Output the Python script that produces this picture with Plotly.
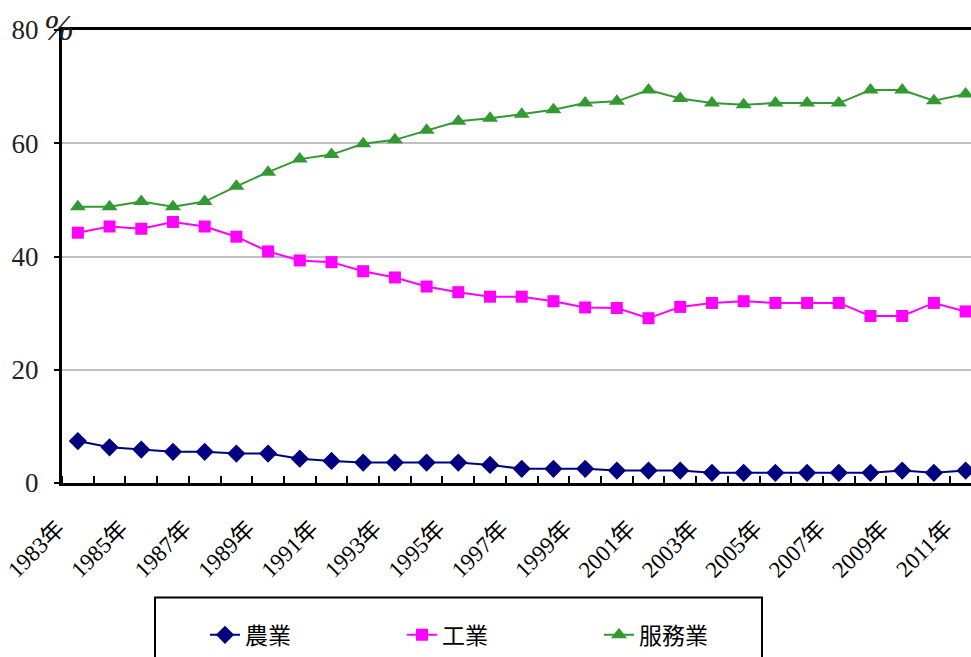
import plotly.graph_objects as go

years = list(range(1983, 2012))
agriculture = [7.4, 6.3, 5.9, 5.5, 5.5, 5.2, 5.2, 4.3, 3.9, 3.6, 3.6, 3.6, 3.6, 3.2,
               2.5, 2.5, 2.5, 2.2, 2.2, 2.2, 1.8, 1.8, 1.8, 1.8, 1.8, 1.8, 2.2, 1.8, 2.2]
industry = [44.2, 45.3, 44.9, 46.1, 45.3, 43.5, 40.9, 39.3, 39.0, 37.4, 36.3, 34.7, 33.7, 32.9,
            32.9, 32.1, 31.0, 30.9, 29.1, 31.1, 31.8, 32.1, 31.8, 31.8, 31.8, 29.5, 29.5, 31.8, 30.3]
services = [48.8, 48.8, 49.7, 48.8, 49.7, 52.4, 54.9, 57.2, 58.0, 59.9, 60.6, 62.3, 63.9, 64.4,
            65.1, 65.9, 67.1, 67.4, 69.4, 67.9, 67.1, 66.8, 67.1, 67.1, 67.1, 69.4, 69.4, 67.5, 68.7]
series_names = ["農業", "工業", "服務業"]
tick_years = list(range(1983, 2012, 2))
tick_labels = [f"{y}年" for y in tick_years]
y_ticks = [0, 20, 40, 60, 80]

serif = "Liberation Serif, Noto Sans CJK TC, serif"
cjk = "Noto Sans CJK TC, sans-serif"

fig = go.Figure()
fig.add_trace(go.Scatter(x=years, y=agriculture, name=series_names[0], mode="lines+markers",
                         line=dict(color="#000080", width=2),
                         marker=dict(symbol="diamond", size=14, color="#000080")))
fig.add_trace(go.Scatter(x=years, y=industry, name=series_names[1], mode="lines+markers",
                         line=dict(color="#FF00FF", width=2),
                         marker=dict(symbol="square", size=12, color="#FF00FF")))
fig.add_trace(go.Scatter(x=years, y=services, name=series_names[2], mode="lines+markers",
                         line=dict(color="#339933", width=2),
                         marker=dict(symbol="triangle-up", size=14, color="#339933")))

fig.update_layout(
    width=971, height=657,
    margin=dict(l=62, r=0, t=30, b=172),
    paper_bgcolor="white", plot_bgcolor="white",
    showlegend=True,
    legend=dict(orientation="h", x=(205 - 62) / 909, xanchor="left",
                y=(485 - 616) / 455, yanchor="top",
                font=dict(family=cjk, size=23, color="black"),
                entrywidth=152, entrywidthmode="pixels",
                bgcolor="rgba(0,0,0,0)", borderwidth=0),
    xaxis=dict(range=[1982.5, 2011.17], tickmode="array", tickvals=tick_years,
               ticktext=tick_labels, tickangle=-45, ticks="",
               tickfont=dict(family=serif, size=23, color="black"),
               ticklabelshift=-20, ticklabelstandoff=20, ticklabeloverflow="allow",
               showline=True, linecolor="black", linewidth=3, mirror=True,
               showgrid=False, zeroline=False,
               minor=dict(tick0=1982.5, dtick=1, ticks="inside", ticklen=7,
                          tickcolor="black", tickwidth=2, showgrid=False)),
    yaxis=dict(range=[0, 80], tickmode="array", tickvals=y_ticks,
               ticks="outside", ticklen=5, tickcolor="black", tickwidth=2,
               tickfont=dict(family=serif, size=27, color="#222"),
               ticklabelstandoff=10,
               showline=True, linecolor="black", linewidth=3,
               showgrid=True, gridcolor="#C0C0C0", gridwidth=2, zeroline=False),
    shapes=[dict(type="rect", xref="paper", yref="paper",
                 x0=(155 - 62) / 909, x1=(762 - 62) / 909,
                 y0=(485 - 600) / 455, y1=(485 - 680) / 455,
                 line=dict(color="black", width=2), fillcolor="rgba(0,0,0,0)")],
    annotations=[dict(text="<i>%</i>", xref="paper", yref="paper",
                      x=(59 - 62) / 909, y=(485 - 28) / 455,
                      xanchor="center", yanchor="middle", showarrow=False,
                      font=dict(family=serif, size=36, color="#222"))],
)

fig.write_html("out.html")
